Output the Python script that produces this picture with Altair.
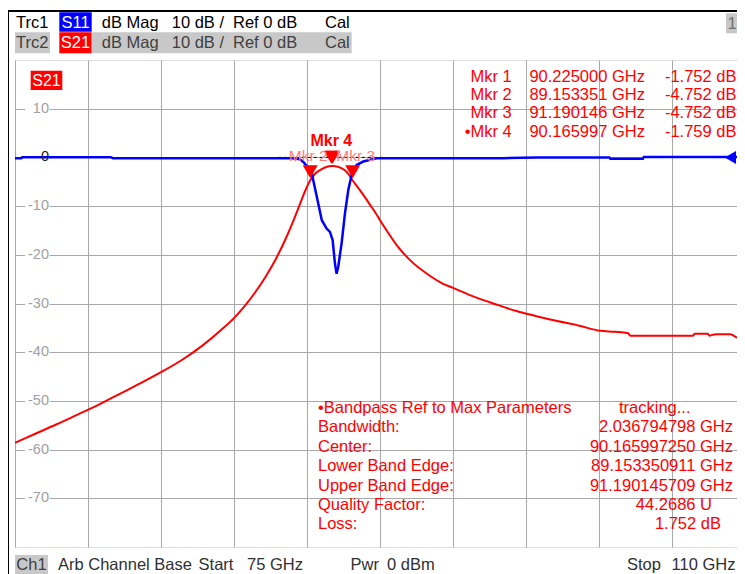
import altair as alt
import pandas as pd

# ---------------- data ----------------
# Trc2  S21 (red)
s21_freq = [75.0, 76.0, 77.0, 78.0, 79.0, 80.0, 81.0, 82.0, 83.0, 84.0, 85.0, 85.5,
            86.0, 86.5, 87.0, 87.5, 88.0, 88.3, 88.66, 88.9, 89.15, 89.4,
            89.7, 90.0, 90.17, 90.23, 90.5, 90.8, 91.0, 91.19, 91.5, 91.8, 92.0, 92.26,
            92.5, 92.82, 93.3, 93.94, 94.82, 95.5, 96.0, 97.0,
            98.0, 99.0, 100.0, 101.0, 102.0, 103.05, 103.77, 104.4, 104.5,
            107.5, 107.6, 108.2, 108.3, 108.6, 109.3, 109.6, 110.0]
s21_db = [-58.6, -56.7, -54.8, -52.8, -50.8, -48.6, -46.4, -44.1, -41.6, -38.6, -35.0, -33.0,
          -30.6, -27.8, -24.6, -20.9, -16.5, -13.5, -9.6, -7.0, -4.75, -3.3,
          -2.4, -1.85, -1.76, -1.75, -1.95, -2.6, -3.5, -4.75, -6.5, -8.3, -9.6, -11.2,
          -12.9, -15.0, -18.0, -21.1, -24.1, -25.9, -26.8, -28.6,
          -30.1, -31.5, -32.6, -33.6, -34.5, -35.6, -35.8, -36.1, -36.6,
          -36.6, -36.2, -36.2, -36.6, -36.3, -36.3, -36.95, -37.2]

# Trc1  S11 (blue)
s11_freq = [75.0, 75.3, 75.35, 79.6, 79.7, 88.3, 88.66, 88.81, 89.0, 89.23, 89.47,
            89.71, 89.94, 90.10, 90.23, 90.34, 90.42, 90.50, 90.66, 90.82, 90.98,
            91.14, 91.38, 91.70, 92.34, 95.86, 95.9, 98.4, 100.0, 103.5, 103.55,
            105.1, 105.15, 110.0]
s11_db = [-0.2, -0.2, 0.05, 0.05, -0.2, -0.2, -0.4, -0.9, -1.8, -3.3, -8.1,
          -12.9, -14.6, -15.3, -17.0, -21.8, -23.9, -22.4, -17.6, -11.5, -6.7,
          -3.6, -1.55, -0.85, -0.2, -0.2, -0.15, -0.15, 0.0, 0.0, -0.3,
          -0.3, 0.1, 0.1]

# markers
mkr_names = ["Mkr 1", "Mkr 2", "Mkr 3", "Mkr 4"]
mkr_freq = [90.225000, 89.153351, 91.190146, 90.165997]
mkr_db = [-1.752, -4.752, -4.752, -1.759]
mkr_freq_txt = ["90.225000 GHz", "89.153351 GHz", "91.190146 GHz", "90.165997 GHz"]
mkr_db_txt = ["-1.752 dB", "-4.752 dB", "-4.752 dB", "-1.759 dB"]

# bandpass table
bp_labels = ["\u2022Bandpass Ref to Max Parameters", "Bandwidth:", "Center:",
             "Lower Band Edge:", "Upper Band Edge:", "Quality Factor:", "Loss:"]
bp_values = ["tracking...", "2.036794798 GHz", "90.165997250 GHz", "89.153350911 GHz",
             "91.190145709 GHz", "44.2686 U", "1.752 dB"]

# axis ticks
x_ticks = [75.0, 78.5, 82.0, 85.5, 89.0, 92.5, 96.0, 99.5, 103.0, 106.5, 110.0]
y_ticks = [10, 0, -10, -20, -30, -40, -50, -60, -70]
y_tick_labels = ["10", "0", "-10", "-20", "-30", "-40", "-50", "-60", "-70"]

# ---------------- chart ----------------
FONT = "Liberation Sans"
RED = "#ff0000"
BLUE = "#0000ff"
GRID = "#a8a8a8"
GRAYBG = "#c8c8c8"
W, H = 730, 487

one = pd.DataFrame({"k": [0]})
xs = alt.Scale(domain=[75, 110], nice=False, zero=False)
ys = alt.Scale(domain=[-80, 20], nice=False, zero=False)
xaxis = alt.Axis(values=x_ticks, grid=True, labels=False, ticks=False, domain=False,
                 title=None, gridColor=GRID, gridWidth=1)
yaxis = alt.Axis(values=[-70, -60, -50, -40, -30, -20, -10, 0, 10], grid=True, labels=False,
                 ticks=False, domain=False, title=None, gridColor=GRID, gridWidth=1)


def txt(s, x, y, color="black", size=16.5, align="left", weight="normal"):
    return alt.Chart(one).mark_text(text=s, align=align, baseline="middle", font=FONT,
                                    fontSize=size, color=color, fontWeight=weight).encode(
        x=alt.value(x), y=alt.value(y))


def box(x1, x2, y1, y2, color):
    return alt.Chart(one).mark_rect(color=color).encode(
        x=alt.value(x1), x2=alt.value(x2), y=alt.value(y1), y2=alt.value(y2))


def rule(x1, x2, y1, y2, color="black", width=1.0):
    return alt.Chart(one).mark_rule(color=color, strokeWidth=width).encode(
        x=alt.value(x1), x2=alt.value(x2), y=alt.value(y1), y2=alt.value(y2))


layers = []

# grid
grid_df = pd.DataFrame({"f": [75.0], "d": [0.0]})
layers.append(alt.Chart(grid_df).mark_point(opacity=0).encode(
    x=alt.X("f:Q", scale=xs, axis=xaxis), y=alt.Y("d:Q", scale=ys, axis=yaxis)))

# y labels with white background
ylab_df = pd.DataFrame({"v": y_ticks, "t": y_tick_labels})
ylab_bg = ylab_df[ylab_df.v != 0]
layers.append(alt.Chart(ylab_bg).mark_point(shape="M-1,-0.57H1V0.57H-1Z", filled=True,
                                            color="white", opacity=1, size=600, strokeWidth=0).encode(
    x=alt.value(22.3), y=alt.Y("v:Q", scale=ys, axis=yaxis)))
layers.append(alt.Chart(ylab_bg).mark_text(align="right", baseline="middle", font=FONT,
                                           fontSize=14.5, color="#a0a0a0").encode(
    x=alt.value(34), y=alt.Y("v:Q", scale=ys, axis=yaxis), text="t:N"))

# dashed reference line
layers.append(alt.Chart(one).mark_rule(color="black", strokeDash=[3, 3], strokeWidth=1).encode(
    x=alt.datum(87.6), x2=alt.datum(92.6), y=alt.datum(0)))

# traces
s21_df = pd.DataFrame({"f": s21_freq, "d": s21_db})
s11_df = pd.DataFrame({"f": s11_freq, "d": s11_db})
layers.append(alt.Chart(s21_df).mark_line(color=RED, strokeWidth=2, clip=True,
                                          interpolate="monotone").encode(
    x=alt.X("f:Q", scale=xs, axis=xaxis), y=alt.Y("d:Q", scale=ys, axis=yaxis)))
layers.append(alt.Chart(s11_df).mark_line(color=BLUE, strokeWidth=2.5, clip=True).encode(
    x=alt.X("f:Q", scale=xs, axis=xaxis), y=alt.Y("d:Q", scale=ys, axis=yaxis)))

# "0" label on top of the blue trace
layers.append(txt("0", 34, H * 20 / 100, color="#202020", size=14.5, align="right"))

# marker triangles
mk_df = pd.DataFrame({"n": mkr_names, "f": mkr_freq, "d": mkr_db})
layers.append(alt.Chart(mk_df).mark_point(shape="triangle-down", filled=True, color=RED,
                                          opacity=1, size=225, yOffset=-8.7).encode(
    x=alt.X("f:Q", scale=xs, axis=xaxis), y=alt.Y("d:Q", scale=ys, axis=yaxis)))
# marker labels
layers.append(alt.Chart(mk_df[mk_df.n == "Mkr 2"]).mark_text(
    font=FONT, fontSize=15.5, color="#ff7a7a", dx=-2, dy=-24.5, baseline="middle").encode(
    x=alt.X("f:Q", scale=xs, axis=xaxis), y=alt.Y("d:Q", scale=ys, axis=yaxis), text="n:N"))
layers.append(alt.Chart(mk_df[mk_df.n == "Mkr 3"]).mark_text(
    font=FONT, fontSize=15.5, color="#ff7a7a", dx=3, dy=-24.5, baseline="middle").encode(
    x=alt.X("f:Q", scale=xs, axis=xaxis), y=alt.Y("d:Q", scale=ys, axis=yaxis), text="n:N"))
layers.append(alt.Chart(mk_df[mk_df.n == "Mkr 4"]).mark_text(
    font=FONT, fontSize=16, fontWeight="bold", color=RED, dx=0, dy=-25, baseline="middle").encode(
    x=alt.X("f:Q", scale=xs, axis=xaxis), y=alt.Y("d:Q", scale=ys, axis=yaxis), text="n:N"))

# reference level arrows at right edge
layers.append(alt.Chart(one).mark_point(shape="triangle-left", filled=True, color=BLUE,
                                        opacity=1, size=169).encode(
    x=alt.datum(109.3), y=alt.datum(0)))
layers.append(alt.Chart(one).mark_point(shape="triangle-left", filled=True, color=RED,
                                        opacity=1, size=169).encode(
    x=alt.value(732.5), y=alt.datum(0)))

# S21 tag in plot
layers.append(box(15.7, 47.3, 10.7, 30, RED))
layers.append(txt("S21", 31.5, 20.5, color="white", size=16, align="center"))

# marker readout table (top right)
row_y = [16.7, 35.0, 53.3, 71.7]
for i in range(4):
    name = ("\u2022" if mkr_names[i] == "Mkr 4" else "") + mkr_names[i]
    layers.append(txt(name, 496.7, row_y[i], color=RED, align="right"))
    layers.append(txt(mkr_freq_txt[i], 630, row_y[i], color=RED, align="right"))
    layers.append(txt(mkr_db_txt[i], 721.5, row_y[i], color=RED, align="right"))

# bandpass table (bottom right)
bp_y = [348.3, 367.3, 386.7, 406.0, 425.7, 445.0, 464.3]
bp_right = [None, 718, 718, 718, 718, 697, 706]
for i in range(7):
    layers.append(txt(bp_labels[i], 303, bp_y[i], color=RED))
    if bp_right[i] is None:
        layers.append(txt(bp_values[i], 604, bp_y[i], color=RED))
    else:
        layers.append(txt(bp_values[i], bp_right[i], bp_y[i], color=RED, align="right"))

# header
layers.append(rule(-7, 740, -49, -49, color="black", width=2))
layers.append(rule(-7, -7, -49, 520, color="black", width=2))
layers.append(box(44.3, 76.7, -47.7, -28.3, BLUE))
layers.append(box(0, 35, -27.7, -6.7, GRAYBG))
layers.append(box(44.3, 76.7, -27.7, -6.7, RED))
layers.append(box(76.7, 336.7, -27.7, -6.7, GRAYBG))
layers.append(box(711, 723, -46.7, -26.7, GRAYBG))
layers.append(txt("1", 717, -36.5, color="#707070", align="center"))
hdr_y = [-37, -17]
hdr_col = ["black", "#404040"]
for r, (trc, sp) in enumerate([("Trc1", "S11"), ("Trc2", "S21")]):
    layers.append(txt(trc, 1, hdr_y[r], color=hdr_col[r]))
    layers.append(txt(sp, 60.5, hdr_y[r], color="white", align="center"))
    layers.append(txt("dB Mag", 86.7, hdr_y[r], color=hdr_col[r]))
    layers.append(txt("10 dB /", 156.7, hdr_y[r], color=hdr_col[r]))
    layers.append(txt("Ref 0 dB", 218, hdr_y[r], color=hdr_col[r]))
    layers.append(txt("Cal", 310, hdr_y[r], color=hdr_col[r]))

# footer
FOOT_Y = 505
layers.append(box(0, 33, 495, 514, GRAYBG))
layers.append(txt("Ch1", 16.5, FOOT_Y, color="#404040", align="center"))
layers.append(txt("Arb Channel Base", 43, FOOT_Y, color="#303030"))
layers.append(txt("Start", 183.6, FOOT_Y, color="#303030"))
layers.append(txt("75 GHz", 232, FOOT_Y, color="#303030"))
layers.append(txt("Pwr", 335.6, FOOT_Y, color="#303030"))
layers.append(txt("0 dBm", 372, FOOT_Y, color="#303030"))
layers.append(txt("Stop", 612, FOOT_Y, color="#303030"))
layers.append(txt("110 GHz", 720.5, FOOT_Y, color="#303030", align="right"))

chart = alt.layer(*layers).properties(
    width=W, height=H,
    padding={"left": 7, "top": 52, "right": -8, "bottom": 27},
    autosize=alt.AutoSizeParams(type="none"),
).configure_view(stroke=GRID, strokeWidth=1).configure(background="white")

chart.save("out.html", embed_options={"renderer": "svg", "actions": False})
